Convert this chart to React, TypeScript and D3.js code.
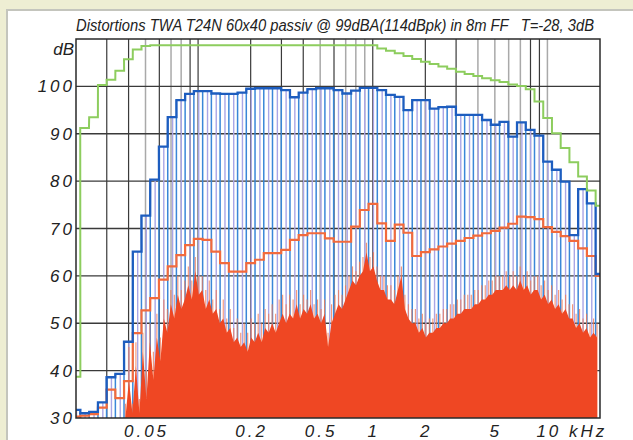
import React, { useEffect, useRef } from 'react';
import * as d3 from 'd3';

// 1/6-octave band centres (kHz)
const bandKHz = [
  0.02, 0.0224, 0.0252, 0.0283, 0.0317, 0.0356, 0.0399, 0.0448, 0.0502, 0.0564,
  0.0632, 0.071, 0.0796, 0.0893, 0.1002, 0.1125, 0.1262, 0.1416, 0.1589, 0.1783,
  0.2, 0.2244, 0.2518, 0.2825, 0.317, 0.3557, 0.3991, 0.4477, 0.5024, 0.5637,
  0.6325, 0.7096, 0.7962, 0.8934, 1.0024, 1.1247, 1.2619, 1.4159, 1.5887, 1.7825,
  2.0, 2.244, 2.518, 2.825, 3.17, 3.557, 3.991, 4.477, 5.024, 5.637,
  6.325, 7.096, 7.962, 8.934, 10.024, 11.247, 12.619, 14.159, 15.887, 17.825, 20.0,
];

// limit curve (green)
const greenDb = [
  38.7, 91.2, 93.5, 100.3, 101.4, 103.3, 105.7, 107.8, 108.5, 108.7,
  108.7, 108.7, 108.7, 108.7, 108.7, 108.7, 108.7, 108.7, 108.7, 108.7,
  108.7, 108.7, 108.7, 108.7, 108.7, 108.7, 108.7, 108.7, 108.7, 108.7,
  108.7, 108.7, 108.7, 108.7, 108.7, 108, 107.5, 107, 106.4, 105.8,
  105.2, 104.7, 104.2, 103.7, 103.1, 102.6, 102.2, 101.7, 101.3, 100.9,
  100.4, 100.1, 99.4, 96.8, 93.3, 90.1, 87, 84, 81, 78, 74.8,
];

// fundamental level (blue)
const blueDb = [
  31.7, 31, 31.3, 33.3, 38.6, 39.3, 46.1, 65.1, 72.7, 80.3,
  87.3, 93.5, 97.1, 98.4, 99, 99, 98.5, 98.4, 98.4, 98.7,
  99.5, 99.6, 99.6, 99.6, 99.2, 97.7, 98.7, 99.4, 99.6, 99.6,
  99.2, 98.5, 99.1, 99.7, 99.7, 99.2, 98.2, 97.8, 95, 97.1,
  97.1, 95.3, 95.6, 95.7, 94, 94, 94, 92.9, 91.9, 92.5,
  89.4, 92.4, 90.8, 89.6, 84.1, 82.4, 79.9, 68.6, 78.3, 75.3, 60.4,
];

// total distortion level (orange)
const orangeDb = [
  30.3, 30.5, 30.8, 32.2, 36, 34.2, 37.8, 47.9, 52.7, 55.3,
  59.2, 62, 64.4, 66.5, 67.8, 67.6, 65.1, 62.7, 60.9, 60.9,
  62.7, 63.4, 64.8, 64.8, 65.5, 67.6, 68.6, 69, 69, 67.9,
  67.2, 67.2, 70.4, 73.9, 75.2, 71.1, 67.4, 70.8, 69.1, 64.2,
  65, 65.6, 66.2, 66.8, 67.4, 68, 68.5, 69, 69.5, 70.2,
  71, 72.5, 72.4, 72, 70.3, 69.3, 68.4, 67.4, 65.8, 64.2, 60,
];

// fine-resolution distortion spectrum (red fill), 50 points per decade from 35 Hz
const noiseStartKHz = 0.035;
const noisePointsPerDecade = 50;
const noiseDb = [
  30, 30, 30, 38, 31, 41, 31, 44, 34, 46,
  38, 47, 42, 51, 48, 54, 51, 56, 53, 55,
  58, 55, 61, 56, 57, 53, 55, 52, 53, 50,
  51, 48, 49, 46, 47, 45, 46, 44, 47, 46,
  48, 46, 49, 48, 50, 48, 50, 52, 50, 52,
  51, 54, 51, 53, 52, 54, 51, 52, 50, 52,
  45, 50, 52, 54, 53, 55, 57, 59, 58, 60,
  61, 65, 61, 62, 59, 57, 57, 55, 55, 54,
  57, 60, 53, 51, 50, 50, 48, 49, 47, 48,
  48, 49, 49, 50, 50, 51, 51, 52, 52, 53,
  53, 53, 54, 54, 55, 55, 56, 56, 57, 57,
  57, 58, 57, 58, 57, 59, 57, 58, 56, 57,
  57, 55, 56, 54, 55, 53, 54, 52, 53, 51,
  51, 49, 50, 48, 49, 47, 48, 47,
];
// lighter spike tips above the dense part
const noisePeakDb = [
  30, 30, 33, 45, 33, 46, 34, 48, 40, 50,
  44, 52, 47, 55, 53, 57, 56, 60, 57, 59,
  62, 59, 64, 60, 60, 57, 59, 55, 57, 53,
  55, 51, 53, 49, 51, 48, 50, 48, 51, 50,
  52, 50, 53, 52, 54, 52, 55, 56, 54, 56,
  55, 57, 54, 56, 55, 57, 54, 55, 53, 55,
  48, 54, 56, 57, 56, 58, 60, 62, 61, 63,
  64, 67, 64, 65, 62, 60, 60, 58, 58, 57,
  60, 62, 56, 54, 53, 53, 51, 52, 50, 51,
  51, 52, 52, 53, 53, 54, 54, 55, 55, 56,
  56, 56, 57, 57, 58, 58, 59, 59, 60, 60,
  60, 61, 60, 61, 60, 62, 60, 61, 59, 60,
  60, 58, 59, 57, 58, 56, 57, 55, 56, 54,
  54, 52, 53, 51, 52, 50, 51, 50,
];

const yTicks = [100, 90, 80, 70, 60, 50, 40, 30];
const yGrid = [40, 50, 60, 70, 80, 90, 100];
const xTickKHz = [0.05, 0.2, 0.5, 1, 2, 5];
const xTickLabels = ['0.05', '0.2', '0.5', '1', '2', '5'];
const gridDarkKHz = [0.03, 0.04, 0.06, 0.09, 0.1, 0.2, 0.3, 0.4, 0.6, 1, 2, 3, 8, 9];
const gridLightKHz = [0.05, 0.07, 0.08, 0.5, 0.7, 0.8, 0.9, 4, 5, 6, 7, 10];

const title = 'Distortions TWA T24N 60x40 passiv @ 99dBA(114dBpk) in 8m FF   T=-28, 3dB';

const W = 633;
const H = 440;
const plot = { left: 76, top: 39, right: 600, bottom: 418 };

const App: React.FC = () => {
  const ref = useRef<SVGSVGElement>(null);

  useEffect(() => {
    const svg = d3.select(ref.current);
    svg.selectAll('*').remove();

    const x = d3.scaleLog().domain([0.02, 20]).range([plot.left, plot.right]);
    const y = d3.scaleLinear().domain([30, 110]).range([plot.bottom, plot.top]);
    const half = Math.pow(10, 1 / 40);
    const fMin = 0.02;
    const fMax = 20;

    // background + panel
    svg.append('rect').attr('width', W).attr('height', H).attr('fill', '#eeeed3');
    svg.append('rect')
      .attr('x', 7).attr('y', 10).attr('width', 650).attr('height', 450)
      .attr('fill', '#ffffff').attr('stroke', '#c4c5bd').attr('stroke-width', 2);

    svg.append('defs').append('clipPath').attr('id', 'plotclip')
      .append('rect')
      .attr('x', plot.left).attr('y', plot.top)
      .attr('width', plot.right - plot.left).attr('height', plot.bottom - plot.top);

    // grid
    const grid = svg.append('g');
    grid.selectAll('line.vl')
      .data(gridLightKHz)
      .enter().append('line')
      .attr('x1', d => x(d)).attr('x2', d => x(d))
      .attr('y1', plot.top).attr('y2', plot.bottom)
      .attr('stroke', '#a9a9a9').attr('stroke-width', 1.5);
    grid.selectAll('line.vd')
      .data(gridDarkKHz)
      .enter().append('line')
      .attr('x1', d => x(d)).attr('x2', d => x(d))
      .attr('y1', plot.top).attr('y2', plot.bottom)
      .attr('stroke', '#3a3a3a').attr('stroke-width', 1.2);
    grid.selectAll('line.h')
      .data(yGrid)
      .enter().append('line')
      .attr('x1', plot.left).attr('x2', plot.right)
      .attr('y1', d => y(d)).attr('y2', d => y(d))
      .attr('stroke', '#3a3a3a').attr('stroke-width', 1.3);

    const g = svg.append('g').attr('clip-path', 'url(#plotclip)');

    // blue band lines: edge (blue) and centre (lavender)
    g.selectAll('line.lav')
      .data(blueDb)
      .enter().append('line')
      .attr('x1', (_, i) => x(bandKHz[i]) + 0.5).attr('x2', (_, i) => x(bandKHz[i]) + 0.5)
      .attr('y1', d => y(d)).attr('y2', plot.bottom)
      .attr('stroke', '#a9a6e6').attr('stroke-width', 1.4);
    g.selectAll('line.edge')
      .data(blueDb.slice(1))
      .enter().append('line')
      .attr('x1', (_, i) => x(bandKHz[i + 1] / half)).attr('x2', (_, i) => x(bandKHz[i + 1] / half))
      .attr('y1', d => y(d)).attr('y2', plot.bottom)
      .attr('stroke', '#3a87d8').attr('stroke-width', 1.5);

    // red distortion spectrum
    const noiseKHz = noiseDb.map((_, k) => noiseStartKHz * Math.pow(10, k / noisePointsPerDecade));
    g.selectAll('line.spike')
      .data(noisePeakDb)
      .enter().append('line')
      .attr('x1', (_, k) => x(noiseKHz[k])).attr('x2', (_, k) => x(noiseKHz[k]))
      .attr('y1', d => y(d)).attr('y2', plot.bottom)
      .attr('stroke', '#f37a55').attr('stroke-width', 1.1).attr('opacity', 0.8);
    const area = d3.area<number>()
      .x((_, k) => x(noiseKHz[k]))
      .y0(plot.bottom)
      .y1(d => y(d));
    g.append('path')
      .attr('d', area(noiseDb))
      .attr('fill', '#ef4723');

    // step curves
    const stepPoints = (vals: number[]) => vals.flatMap((v, i) => {
      const l = Math.max(fMin, bandKHz[i] / half);
      const r = Math.min(fMax, bandKHz[i] * half);
      return [[x(l), y(v)], [x(r), y(v)]] as [number, number][];
    });
    const line = d3.line<[number, number]>();

    g.append('path').attr('d', line(stepPoints(orangeDb)))
      .attr('fill', 'none').attr('stroke', '#f26a3c').attr('stroke-width', 2.2);
    g.append('path').attr('d', line(stepPoints(blueDb)))
      .attr('fill', 'none').attr('stroke', '#1d5dbf').attr('stroke-width', 2.3);
    g.append('path').attr('d', line(stepPoints(greenDb)))
      .attr('fill', 'none').attr('stroke', '#8dcd5e').attr('stroke-width', 2);

    // frame
    svg.append('rect')
      .attr('x', plot.left).attr('y', plot.top)
      .attr('width', plot.right - plot.left).attr('height', plot.bottom - plot.top)
      .attr('fill', 'none').attr('stroke', '#2a2a2a').attr('stroke-width', 1.5);

    const font = '"Liberation Sans", Arial, sans-serif';

    // title: narrow, tall italic lettering
    svg.append('text')
      .attr('transform', `translate(${plot.left},31) scale(1,1.15)`)
      .attr('textLength', 518).attr('lengthAdjust', 'spacingAndGlyphs')
      .style('white-space', 'pre')
      .style('font-family', '"Liberation Sans Narrow", ' + font)
      .style('font-style', 'italic').style('font-size', '15px').style('fill', '#222')
      .text(title);

    // y labels
    svg.selectAll('text.yl')
      .data(yTicks)
      .enter().append('text')
      .attr('x', 75).attr('y', d => y(d)).attr('dy', '0.36em')
      .attr('text-anchor', 'end')
      .style('font-family', font).style('font-style', 'italic')
      .style('font-size', '17px').style('letter-spacing', '3px').style('fill', '#222')
      .text(d => String(d));
    svg.append('text')
      .attr('x', 74).attr('y', 55).attr('text-anchor', 'end')
      .style('font-family', font).style('font-style', 'italic')
      .style('font-size', '17px').style('fill', '#222')
      .text('dB');

    // x labels
    svg.selectAll('text.xl')
      .data(xTickKHz)
      .enter().append('text')
      .attr('x', d => x(d) + 1).attr('y', 437)
      .attr('text-anchor', 'middle')
      .style('font-family', font).style('font-style', 'italic')
      .style('font-size', '17px').style('letter-spacing', '3px').style('fill', '#222')
      .text((_, i) => xTickLabels[i]);
    svg.append('text')
      .attr('x', x(10) - 11).attr('y', 437)
      .style('white-space', 'pre')
      .style('font-family', font).style('font-style', 'italic')
      .style('font-size', '17px').style('letter-spacing', '3px').style('fill', '#222')
      .text('10 kHz');
  }, []);

  return (
    <div style={{ position: 'absolute', left: 0, top: 0, width: W, height: H }}>
      <svg ref={ref} width={W} height={H} style={{ display: 'block' }} />
    </div>
  );
};

export default App;
